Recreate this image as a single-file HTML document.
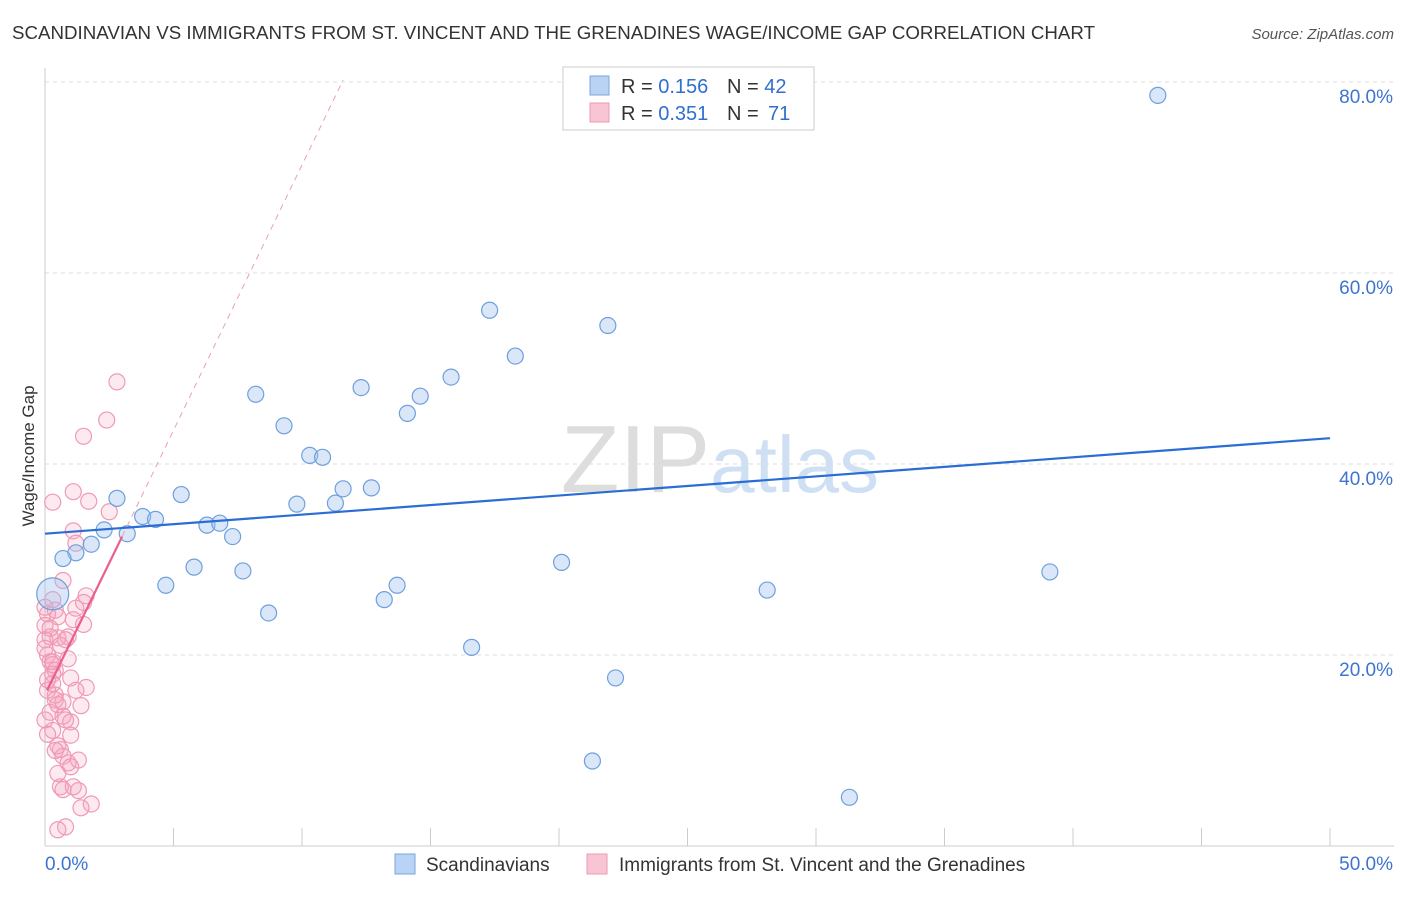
<!DOCTYPE html>
<html><head><meta charset="utf-8"><style>
body{margin:0;background:#fff;font-family:"Liberation Sans",sans-serif}
svg text{font-family:"Liberation Sans",sans-serif}
</style></head><body>
<svg width="1406" height="892" id="c">
<text x="12" y="39" font-size="18" fill="#333" textLength="1083" lengthAdjust="spacingAndGlyphs">SCANDINAVIAN VS IMMIGRANTS FROM ST. VINCENT AND THE GRENADINES WAGE/INCOME GAP CORRELATION CHART</text>
<text x="1394" y="39" font-size="15" fill="#555" text-anchor="end" font-style="italic">Source: ZipAtlas.com</text>
<text x="720" y="492" font-size="96" fill="#ddd" text-anchor="middle" font-family="Liberation Serif">ZIP<tspan fill="#cfe0f5" font-family="Liberation Sans" font-size="80">atlas</tspan></text>
<text x="34" y="456" font-size="17" fill="#333" text-anchor="middle" transform="rotate(-90 34 456)">Wage/Income Gap</text>
<g id="grid"></g><g id="pts"></g><g id="lines"></g>
<g>
<rect x="563" y="67" width="251" height="63" fill="#fff" stroke="#ccc"/>
<rect x="590" y="76" width="19" height="19" fill="#b8d3f3" stroke="#7aa6dc"/>
<rect x="590" y="103" width="19" height="19" fill="#f9c4d4" stroke="#ec98b2"/>
<text x="621" y="93" font-size="20" fill="#333">R = <tspan fill="#2f6fd0">0.156</tspan></text>
<text x="727" y="93" font-size="20" fill="#333">N = <tspan fill="#2f6fd0">42</tspan></text>
<text x="621" y="120" font-size="20" fill="#333">R = <tspan fill="#2f6fd0">0.351</tspan></text>
<text x="727" y="120" font-size="20" fill="#333">N =  <tspan fill="#2f6fd0" x="768">71</tspan></text>
</g>
<g>
<rect x="395" y="854" width="20" height="20" fill="#b8d3f3" stroke="#7aa6dc"/>
<text x="426" y="871" font-size="19" fill="#333">Scandinavians</text>
<rect x="587" y="854" width="20" height="20" fill="#f9c4d4" stroke="#ec98b2"/>
<text x="619" y="871" font-size="19" fill="#333">Immigrants from St. Vincent and the Grenadines</text>
</g>
</svg>
<script>
const blueX=[43.3,17.3,21.9,18.3,15.8,12.3,8.2,14.6,14.1,9.3,10.3,10.8,11.6,12.7,5.3,2.8,9.8,11.3,3.8,4.3,6.3,6.8,2.3,3.2,7.3,1.8,1.2,0.7,20.1,5.8,7.7,39.1,4.7,13.7,28.1,13.2,0.3,8.7,16.6,22.2,21.3,31.3];
const blueY=[78.6,56.1,54.5,51.3,49.1,48.0,47.3,47.1,45.3,44.0,40.9,40.7,37.4,37.5,36.8,36.4,35.8,35.9,34.5,34.2,33.6,33.8,33.1,32.7,32.4,31.6,30.7,30.1,29.7,29.2,28.8,28.7,27.3,27.3,26.8,25.8,26.4,24.4,20.8,17.6,8.9,5.1];
const pinkX=[2.8,2.4,1.5,1.1,0.3,1.7,2.5,1.1,1.2,1.6,1.5,0.4,0.1,0.5,1.2,1.1,0.2,0.5,0.9,0,0.1,0.2,0.3,0.9,0.4,1.0,0.1,1.6,0.4,0.4,1.4,0.2,0.7,0.8,1.0,0.3,0.5,0.6,0.7,0.9,1.3,1.0,0.6,0.7,1.3,1.8,1.4,0.8,0.5,0,0,0,0.1,0,0.5,0.3,0.7,0.3,0.6,0.8,1.2,0.3,0.5,0.1,0.7,1.0,0.4,1.1,0.2,1.5,0.3];
const pinkY=[48.6,44.6,42.9,37.1,36.0,36.1,35.0,33.0,31.7,26.2,25.5,24.7,24.3,24.0,24.9,23.7,21.9,21.8,21.9,21.6,20.0,19.3,19.3,19.6,18.4,17.6,17.4,16.6,15.8,15.3,14.7,14.0,13.6,13.2,13.0,12.1,10.5,10.1,9.4,8.7,9.0,8.3,6.2,5.9,5.8,4.4,4.0,2.0,1.7,25.0,23.1,20.7,16.3,13.2,7.6,25.8,27.8,19.0,21.0,21.6,16.3,17.0,14.8,11.7,15.1,11.6,10.0,6.2,22.8,23.2,18.0];
const blueFit=[32.7,42.7];
const pinkFitX=[0.08,3.0,11.6], pinkFitY=[16.3,32.4,80.2];
const yTicks=[20,40,60,80];
const NS='http://www.w3.org/2000/svg';
const sx=v=>45+v*25.7, sy=v=>846-v*9.55;
function mk(p,t,a){const e=document.createElementNS(NS,t);for(const k in a)e.setAttribute(k,a[k]);p.appendChild(e);return e;}
const g=document.getElementById('grid'),P=document.getElementById('pts'),L=document.getElementById('lines');
for(const t of yTicks){
 const l=mk(g,'line',{x1:45,x2:1394,y1:sy(t),y2:sy(t),stroke:'#ddd','stroke-dasharray':'4 4'});
 
 
 const tx=mk(g,'text',{x:1393,y:sy(t)+21,'font-size':19,fill:'#3d74d0','text-anchor':'end'});tx.textContent=t.toFixed(1)+'%';
 
 
}
mk(g,'line',{x1:45,x2:45,y1:68,y2:846,stroke:'#ccc'});
mk(g,'line',{x1:45,x2:1394,y1:846,y2:846,stroke:'#ccc'});
for(let i=0;i<=10;i++){mk(g,'line',{x1:sx(i*5),x2:sx(i*5),y1:828,y2:846,stroke:'#ccc'});}
let t0=mk(g,'text',{x:45,y:870,'font-size':19,fill:'#3d74d0'});t0.textContent='0.0%';


let t1=mk(g,'text',{x:1393,y:870,'font-size':19,fill:'#3d74d0','text-anchor':'end'});t1.textContent='50.0%';


pinkX.forEach((x,i)=>{const c=mk(P,'circle',{cx:sx(x),cy:sy(pinkY[i]),r:8,fill:'rgba(245,160,188,0.22)',stroke:'#ef9ab5','stroke-width':1.2});
 
 });
blueX.forEach((x,i)=>{const c=mk(P,'circle',{cx:sx(x),cy:sy(blueY[i]),r:(x<0.5?16:8),fill:'rgba(160,195,240,0.4)',stroke:'#6f9fdc','stroke-width':1.2});
 
 });
const bl=mk(L,'line',{x1:sx(0),y1:sy(blueFit[0]),x2:sx(50),y2:sy(blueFit[1]),stroke:'#2a6dd4','stroke-width':2.2});


const pl=mk(L,'line',{x1:sx(pinkFitX[0]),y1:sy(pinkFitY[0]),x2:sx(pinkFitX[1]),y2:sy(pinkFitY[1]),stroke:'#e9608e','stroke-width':2.2});


const pd=mk(L,'line',{x1:sx(pinkFitX[1]),y1:sy(pinkFitY[1]),x2:sx(pinkFitX[2]),y2:sy(pinkFitY[2]),stroke:'#eaa0b8','stroke-width':1,'stroke-dasharray':'6 5'});


</script>
</body></html>
